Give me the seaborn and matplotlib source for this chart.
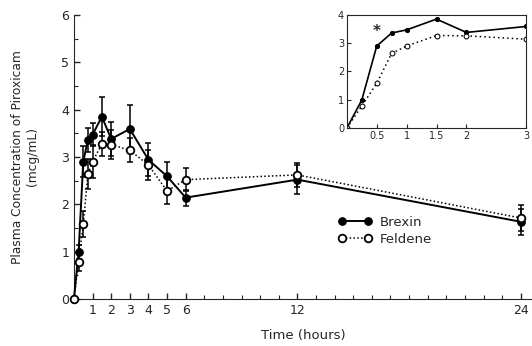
import matplotlib
matplotlib.use("Agg")
import matplotlib.pyplot as plt
import seaborn as sns
import pandas as pd

# values
time_h = [0, 0.25, 0.5, 0.75, 1, 1.5, 2, 3, 4, 5, 6, 12, 24]
brexin = [0, 0.99, 2.90, 3.36, 3.47, 3.85, 3.38, 3.59, 2.94, 2.59, 2.14, 2.52, 1.63]
brexin_err = [0, 0.15, 0.33, 0.25, 0.25, 0.41, 0.36, 0.50, 0.35, 0.30, 0.17, 0.30, 0.28]
feldene = [0, 0.78, 1.58, 2.64, 2.90, 3.27, 3.26, 3.14, 2.83, 2.28, 2.52, 2.62, 1.71]
feldene_err = [0, 0.20, 0.27, 0.31, 0.35, 0.25, 0.30, 0.25, 0.32, 0.27, 0.25, 0.25, 0.28]

x_ticks = [1, 2, 3, 4, 5, 6, 12, 24]
y_ticks = [0, 1, 2, 3, 4, 5, 6]
inset_x_ticks = [0.5, 1, 1.5, 2, 3]
inset_y_ticks = [0, 1, 2, 3, 4]

sns.set_style("ticks")
plt.rcParams['font.family'] = ['DejaVu Sans']

df = pd.DataFrame({"time": time_h, "Brexin": brexin, "Feldene": feldene})

fig = plt.figure(figsize=(5.32, 3.46), dpi=100)
ax = fig.add_axes([0.139, 0.136, 0.861, 0.821])

sns.lineplot(data=df, x="time", y="Brexin", ax=ax, color="black", lw=1.4,
             marker="o", markersize=5.5, markerfacecolor="black",
             markeredgecolor="black", label="Brexin", clip_on=False, zorder=3)
sns.lineplot(data=df, x="time", y="Feldene", ax=ax, color="black", lw=1.1,
             linestyle=(0, (1, 1.5)), marker="o", markersize=5.5,
             markerfacecolor="white", markeredgecolor="black",
             markeredgewidth=1.3, label="Feldene", clip_on=False, zorder=4)
ax.errorbar(time_h, brexin, yerr=brexin_err, fmt="none", ecolor="black",
            elinewidth=1.1, capsize=2.5, capthick=1.1, zorder=2)
ax.errorbar(time_h, feldene, yerr=feldene_err, fmt="none", ecolor="black",
            elinewidth=1.1, capsize=2.5, capthick=1.1, zorder=2)

ax.set_xlim(0, 24.6)
ax.set_ylim(0, 6)
ax.set_xticks(x_ticks)
ax.set_xticks(range(0, 25), minor=True)
ax.set_yticks(y_ticks)
ax.set_yticks([v / 2 for v in range(0, 13)], minor=True)
ax.tick_params(direction="in", length=4, width=1, labelsize=9)
ax.tick_params(which="minor", direction="in", length=3, width=0.8)
ax.set_xlabel("Time (hours)", fontsize=9.5, labelpad=9)
ax.set_ylabel("Plasma Concentration of Piroxicam\n(mcg/mL)", fontsize=8.8, labelpad=16)
sns.despine(ax=ax)
ax.legend(numpoints=2, frameon=False, loc="center left",
          bbox_to_anchor=(0.55, 0.24), handlelength=2.6, fontsize=9.5,
          labelspacing=0.3, handletextpad=0.6)

# inset: first three hours
axins = fig.add_axes([0.652, 0.630, 0.337, 0.327])
sns.lineplot(data=df[df["time"] <= 3], x="time", y="Brexin", ax=axins,
             color="black", lw=1.2, marker="o", markersize=3,
             markerfacecolor="black", markeredgecolor="black")
sns.lineplot(data=df[df["time"] <= 3], x="time", y="Feldene", ax=axins,
             color="black", lw=1.1, linestyle=(0, (1, 2)), marker="o",
             markersize=3.5, markerfacecolor="white", markeredgecolor="black")
axins.text(0.5, 3.15, "*", ha="center", va="bottom", fontsize=11, fontweight="bold")
axins.set_xlim(0, 3)
axins.set_ylim(0, 4)
axins.set_xticks(inset_x_ticks)
axins.set_xticklabels(["0.5", "1", "1.5", "2", "3"])
axins.set_yticks(inset_y_ticks)
axins.tick_params(direction="in", length=3, labelsize=7, pad=2)
axins.set_xlabel("")
axins.set_ylabel("")

fig.savefig("out.png", dpi=100)
